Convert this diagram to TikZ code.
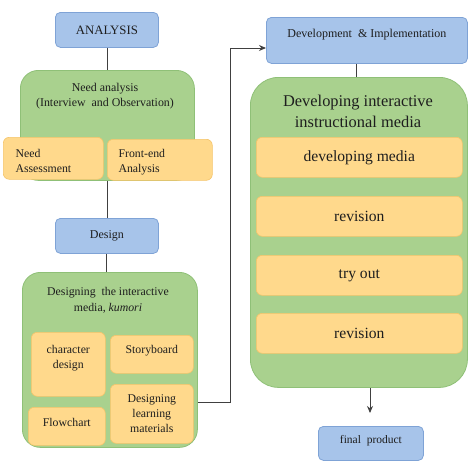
\documentclass[tikz,border=0pt]{standalone}
\usepackage{fontspec}
\setmainfont{Liberation Serif}
\usepackage{xcolor}
\usetikzlibrary{positioning, arrows.meta}
\definecolor{blockblue}{HTML}{A7C4EA}
\definecolor{blockblueline}{HTML}{7FA3D6}
\definecolor{panelgreen}{HTML}{A9D18E}
\definecolor{panelgreenline}{HTML}{8FC077}
\definecolor{itemorange}{HTML}{FFD98C}
\definecolor{itemorangeline}{HTML}{F5C46A}
\definecolor{linkgray}{HTML}{404040}
\definecolor{inkdark}{HTML}{1E1E1E}

\tikzset{
  blueblock/.style={draw=blockblueline, fill=blockblue, rounded corners=5pt, line width=0.8pt,
                    anchor=north west, inner sep=0pt, align=center, text=inkdark},
  greenpanel/.style={draw=panelgreenline, fill=panelgreen, rounded corners=18pt, line width=0.8pt,
                     anchor=north west, inner sep=0pt},
  orangeitem/.style={draw=itemorangeline, fill=itemorange, rounded corners=6pt, line width=0.6pt,
                     anchor=north west, inner sep=0pt, align=center, text=inkdark,
                     font=\fontsize{11.8}{15}\selectfont},
  link/.style={draw=linkgray, line width=1pt}
}

\begin{document}
\begin{tikzpicture}[x=1pt, y=-1pt]
    \useasboundingbox (0,0) rectangle (474,464);

    % left column: analysis
    \node[blueblock, minimum width=103pt, minimum height=35pt, font=\fontsize{12.8}{15}\selectfont] (analysis) at (55,12) {ANALYSIS};
    \node[greenpanel, minimum width=174pt, minimum height=110pt] (needpanel) at (20,70) {};
    \node[align=center, text=inkdark, font=\fontsize{11.9}{15}\selectfont] (needtitle) at (105,96) {Need analysis\\(Interview\ \ and Observation)};
    \node[orangeitem, minimum width=100pt, minimum height=42pt] (assess) at (3,137) {};
    \node[anchor=north west, align=left, text=inkdark, font=\fontsize{11.8}{15}\selectfont] (assesstext) at (12,146) {Need\\Assessment};
    \node[orangeitem, minimum width=105pt, minimum height=41pt] (frontend) at (107,139) {};
    \node[anchor=north west, align=left, text=inkdark, font=\fontsize{11.8}{15}\selectfont] (frontendtext) at (115,146) {Front-end\\Analysis};

    % left column: design
    \node[blueblock, minimum width=103pt, minimum height=35pt, font=\fontsize{12}{14}\selectfont] (design) at (55,218) {Design};
    \node[greenpanel, minimum width=175pt, minimum height=175pt] (designpanel) at (22,272) {};
    \node[align=center, text=inkdark, font=\fontsize{11.8}{16}\selectfont] (designtitle) at (108,300) {Designing\ \ the interactive\\media, \textit{kumori}};
    \node[orangeitem, minimum width=74pt, minimum height=64pt] (character) at (31,332) {character\\design\\[-1pt]};
    \node[orangeitem, minimum width=83pt, minimum height=38pt] (storyboard) at (110,335) {Storyboard\\[-5pt]};
    \node[orangeitem, minimum width=77pt, minimum height=38pt] (flowchart) at (28,407) {Flowchart\\[-7pt]};
    \node[orangeitem, minimum width=83pt, minimum height=59pt] (materials) at (110,384) {Designing\\learning\\materials};

    % right column: development
    \node[blueblock, minimum width=201pt, minimum height=46pt, font=\fontsize{12}{14}\selectfont] (develop) at (266,17) {Development\ \ \& Implementation\\[0pt]};
    \node[greenpanel, minimum width=217pt, minimum height=310pt, rounded corners=28pt] (devpanel) at (250,77) {};
    \node[align=center, text=inkdark, font=\fontsize{16.4}{21}\selectfont] (devtitle) at (358,111) {Developing interactive\\instructional media};
    \foreach \y/\name/\txt in {137/devmedia/developing media, 196/revone/revision, 255/tryout/try out, 313/revtwo/revision}
      \node[orangeitem, minimum width=206pt, minimum height=40pt, font=\fontsize{15.6}{18}\selectfont] (\name) at (256,\y) {\txt};
    \node[blueblock, minimum width=105pt, minimum height=34pt, font=\fontsize{11.5}{14}\selectfont] (final) at (318,426) {final\ \ product\\[-6pt]};

    % connectors
    \draw[link] (analysis.south -| needpanel.north) -- (needpanel.north);
    \draw[link] (needpanel.south) -- (design.north -| needpanel.south);
    \draw[link] (design.south) -- (designpanel.north -| design.south);
    \draw[link] (develop.south -| 356,0) -- (devpanel.north -| 356,0);
    \coordinate (leftout) at (designpanel.east |- 0,402);
    \coordinate (turn) at (230,48);
    \draw[link, -{Stealth[length=7pt, width=6pt]}] (leftout) -| (turn) -- (turn -| develop.west);
    \draw[link, -{Stealth[length=7pt, width=6pt]}, shorten >=13pt] (devpanel.south -| 370,0) -- (final.north -| 370,0);
\end{tikzpicture}
\end{document}
